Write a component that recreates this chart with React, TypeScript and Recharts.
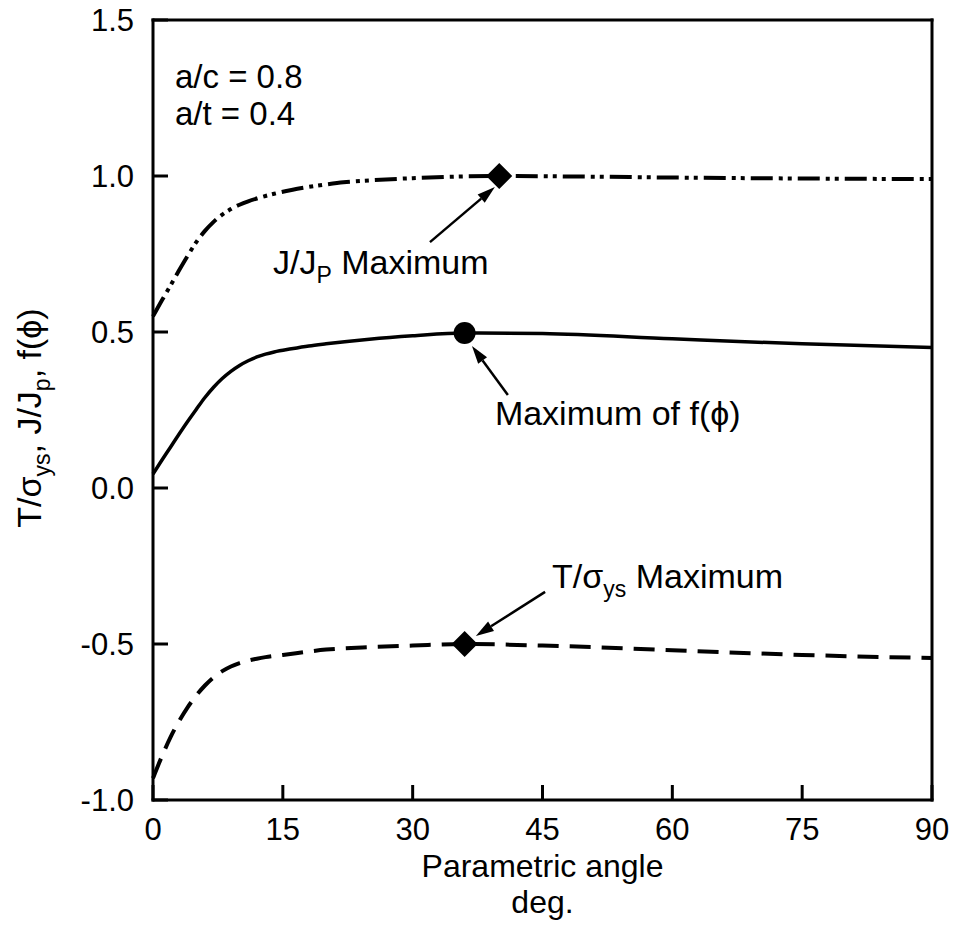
import React from 'react';
import { ComposedChart, Line, Scatter, XAxis, YAxis, ReferenceLine, ReferenceDot } from 'recharts';

const FONT = '"Liberation Sans", Arial, Helvetica, sans-serif';

// J/Jp curve (dash-dot-dot)
const jAngles = [0, 1, 2, 3, 4, 5, 6, 7, 8, 9, 10, 11, 12, 13, 14, 16, 18, 20, 22, 25, 30, 35, 40, 50, 60, 75, 90];
const jRatio = [0.55, 0.6, 0.648, 0.697, 0.744, 0.788, 0.824, 0.853, 0.876, 0.894, 0.908, 0.919, 0.928, 0.936, 0.943, 0.955, 0.965, 0.973, 0.98, 0.986, 0.993, 0.998, 1.0, 0.998, 0.995, 0.992, 0.99];

// f(phi) curve (solid)
const fAngles = [0, 1, 2, 3, 4, 5, 6, 7, 8, 9, 10, 11, 12, 13, 14, 16, 18, 20, 25, 30, 36, 45, 60, 75, 90];
const fPhi = [0.045, 0.088, 0.13, 0.172, 0.213, 0.252, 0.29, 0.323, 0.351, 0.374, 0.393, 0.408, 0.42, 0.429, 0.436, 0.446, 0.455, 0.462, 0.477, 0.488, 0.497, 0.495, 0.478, 0.462, 0.45];

// T/sigma_ys curve (dashed)
const tAngles = [0, 1, 2, 3, 4, 5, 6, 7, 8, 9, 10, 11, 12, 13, 15, 20, 25, 30, 36, 45, 60, 75, 90];
const tRatio = [-0.93, -0.862, -0.8, -0.748, -0.703, -0.665, -0.633, -0.607, -0.587, -0.572, -0.561, -0.553, -0.547, -0.542, -0.535, -0.518, -0.51, -0.505, -0.5, -0.505, -0.52, -0.535, -0.545];

const jMax = [{ x: 40, y: 1.0 }];
const fMax = [{ x: 36, y: 0.497 }];
const tMax = [{ x: 36, y: -0.5 }];

const xTicks = [0, 15, 30, 45, 60, 75, 90];
const yTicks = [-1, -0.5, 0, 0.5, 1, 1.5];

const toPoints = (xs: number[], ys: number[]) => xs.map((x, i) => ({ x, y: ys[i] }));

const jData = toPoints(jAngles, jRatio);
const fData = toPoints(fAngles, fPhi);
const tData = toPoints(tAngles, tRatio);

// annotation arrows, tail -> head, in data units
const arrows = [
  [{ x: 32.0, y: 0.788 }, { x: 39.5, y: 0.965 }],
  [{ x: 41.0, y: 0.298 }, { x: 36.85, y: 0.455 }],
  [{ x: 45.3, y: -0.333 }, { x: 37.3, y: -0.474 }],
];

const TICK_LEN = 15;
const axisStyle = { stroke: '#000', strokeWidth: 3, strokeLinecap: 'square' as const };

// inward tick marks drawn by hand, recharts only draws them outward
const BottomTick = (p: any) => (
  <g>
    <line x1={p.x} x2={p.x} y1={p.y - 18} y2={p.y - 18 - TICK_LEN} stroke="#000" strokeWidth={3} />
    <text x={p.x} y={p.y + 22} textAnchor="middle" fontSize={31} fill="#000" fontFamily={FONT}>
      {p.payload.value}
    </text>
  </g>
);
const LeftTick = (p: any) => (
  <g>
    <line x1={p.x + 19} x2={p.x + 19 + TICK_LEN} y1={p.y} y2={p.y} stroke="#000" strokeWidth={3} />
    <text x={p.x} y={p.y} dy="0.36em" textAnchor="end" fontSize={31} fill="#000" fontFamily={FONT}>
      {Number(p.payload.value).toFixed(1)}
    </text>
  </g>
);
const TopTick = (p: any) => (
  <line x1={p.x} x2={p.x} y1={p.y} y2={p.y + TICK_LEN} stroke="#000" strokeWidth={3} />
);
const RightTick = (p: any) => (
  <line x1={p.x} x2={p.x - TICK_LEN} y1={p.y} y2={p.y} stroke="#000" strokeWidth={3} />
);

const Diamond = (p: any) => (
  <path d={`M${p.cx},${p.cy - 13} L${p.cx + 13},${p.cy} L${p.cx},${p.cy + 13} L${p.cx - 13},${p.cy} Z`} fill="#000" />
);
const Disc = (p: any) => <circle cx={p.cx} cy={p.cy} r={11} fill="#000" />;

const Arrow = (p: any) => {
  const { x1, y1, x2, y2 } = p;
  const ang = Math.atan2(y2 - y1, x2 - x1);
  const len = 18;
  const half = 5.5;
  const bx = x2 - len * Math.cos(ang);
  const by = y2 - len * Math.sin(ang);
  const px = -Math.sin(ang) * half;
  const py = Math.cos(ang) * half;
  return (
    <g>
      <line x1={x1} y1={y1} x2={bx} y2={by} stroke="#000" strokeWidth={2.5} />
      <polygon points={`${x2},${y2} ${bx + px},${by + py} ${bx - px},${by - py}`} fill="#000" />
    </g>
  );
};

const textProps = { fontSize: 34, fill: '#000', fontFamily: FONT, style: { whiteSpace: 'pre' as const } };

const NoteJ = (p: any) => (
  <text x={p.cx} y={p.cy} {...textProps}>
    J/J<tspan dy={9} fontSize={23}>P</tspan>
    <tspan dy={-9}>{' Maximum'}</tspan>
  </text>
);
const NoteF = (p: any) => (
  <text x={p.cx} y={p.cy} {...textProps}>Maximum of f(ϕ)</text>
);
const NoteT = (p: any) => (
  <text x={p.cx} y={p.cy} {...textProps}>
    T/σ<tspan dy={9} fontSize={23}>ys</tspan>
    <tspan dy={-9}>{' Maximum'}</tspan>
  </text>
);
const NoteAC = (p: any) => (
  <text x={p.cx} y={p.cy} {...textProps} fontSize={33}>a/c = 0.8</text>
);
const NoteAT = (p: any) => (
  <text x={p.cx} y={p.cy} {...textProps} fontSize={33}>a/t = 0.4</text>
);

const YLabel = (props: any) => {
  const { x, y, height } = props.viewBox;
  const cx = x + 41;
  const cy = y + height / 2 + 8;
  return (
    <text x={cx} y={cy} transform={`rotate(-90 ${cx} ${cy})`} textAnchor="middle" {...textProps}>
      T/σ<tspan dy={9} fontSize={23}>ys</tspan>
      <tspan dy={-9}>, J/J</tspan>
      <tspan dy={9} fontSize={23}>p</tspan>
      <tspan dy={-9}>, f(ϕ)</tspan>
    </text>
  );
};

const XLabel = (props: any) => {
  const { x, y, width } = props.viewBox;
  const cx = x + width / 2;
  return (
    <g>
      <text x={cx} y={y + 77} textAnchor="middle" {...textProps} fontSize={32}>Parametric angle</text>
      <text x={cx} y={y + 113} textAnchor="middle" {...textProps} fontSize={32}>deg.</text>
    </g>
  );
};

const App = () => {
  return (
    <div style={{ position: 'absolute', left: 0, top: 0, background: '#fff', fontFamily: FONT }}>
      <ComposedChart width={956} height={947} margin={{ top: 19, right: 23, bottom: 0, left: 0 }}>
        <XAxis
          xAxisId="x"
          dataKey="x"
          type="number"
          domain={[0, 90]}
          ticks={xTicks}
          interval={0}
          height={147}
          tickSize={0}
          tickMargin={18}
          axisLine={axisStyle}
          tickLine={false}
          tick={<BottomTick />}
          label={<XLabel />}
        />
        <XAxis
          xAxisId="xt"
          orientation="top"
          type="number"
          domain={[0, 90]}
          ticks={xTicks}
          interval={0}
          height={1}
          tickSize={0}
          tickMargin={0}
          axisLine={axisStyle}
          tickLine={false}
          tick={<TopTick />}
        />
        <YAxis
          yAxisId="y"
          type="number"
          domain={[-1, 1.5]}
          ticks={yTicks}
          interval={0}
          width={153}
          tickSize={0}
          tickMargin={19}
          axisLine={axisStyle}
          tickLine={false}
          tick={<LeftTick />}
          label={<YLabel />}
        />
        <YAxis
          yAxisId="yr"
          orientation="right"
          type="number"
          domain={[-1, 1.5]}
          ticks={yTicks}
          interval={0}
          width={1}
          tickSize={0}
          tickMargin={0}
          axisLine={axisStyle}
          tickLine={false}
          tick={<RightTick />}
        />

        <Line
          xAxisId="x"
          yAxisId="y"
          data={jData}
          dataKey="y"
          type="monotone"
          stroke="#000"
          strokeWidth={4}
          strokeDasharray="22 6 4 5 4 6"
          dot={false}
          isAnimationActive={false}
        />
        <Line
          xAxisId="x"
          yAxisId="y"
          data={fData}
          dataKey="y"
          type="monotone"
          stroke="#000"
          strokeWidth={3.5}
          dot={false}
          isAnimationActive={false}
        />
        <Line
          xAxisId="x"
          yAxisId="y"
          data={tData}
          dataKey="y"
          type="monotone"
          stroke="#000"
          strokeWidth={4}
          strokeDasharray="21 11"
          dot={false}
          isAnimationActive={false}
        />

        <Scatter xAxisId="x" yAxisId="y" data={jMax} dataKey="y" shape={Diamond} isAnimationActive={false} />
        <Scatter xAxisId="x" yAxisId="y" data={fMax} dataKey="y" shape={Disc} isAnimationActive={false} />
        <Scatter xAxisId="x" yAxisId="y" data={tMax} dataKey="y" shape={Diamond} isAnimationActive={false} />

        {arrows.map((seg, i) => (
          <ReferenceLine key={`arrow-${i}`} xAxisId="x" yAxisId="y" segment={seg} shape={Arrow} />
        ))}

        <ReferenceDot xAxisId="x" yAxisId="y" x={2.54} y={1.282} r={0} shape={NoteAC} />
        <ReferenceDot xAxisId="x" yAxisId="y" x={2.54} y={1.165} r={0} shape={NoteAT} />
        <ReferenceDot xAxisId="x" yAxisId="y" x={13.86} y={0.686} r={0} shape={NoteJ} />
        <ReferenceDot xAxisId="x" yAxisId="y" x={39.5} y={0.202} r={0} shape={NoteF} />
        <ReferenceDot xAxisId="x" yAxisId="y" x={46.1} y={-0.3205} r={0} shape={NoteT} />
      </ComposedChart>
    </div>
  );
};

export default App;
